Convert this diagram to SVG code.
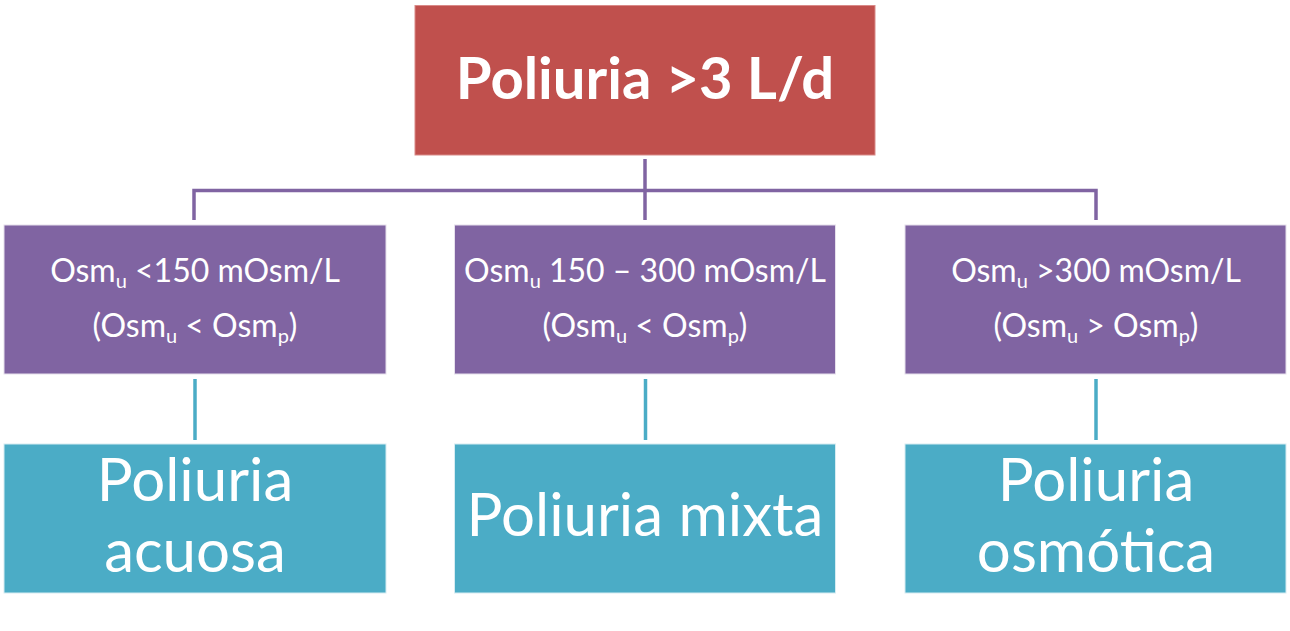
<svg xmlns="http://www.w3.org/2000/svg" width="1290" height="631" viewBox="0 0 1290 631">
<style>
.bg{fill:#ffffff}
.red{fill:#C0504D;stroke:#D98A88;stroke-width:1}
.pur{fill:#8064A2;stroke:#E6E0EC;stroke-width:1}
.cya{fill:#4BACC6;stroke:#D6ECF2;stroke-width:1}
.lp{stroke:#8064A2;stroke-width:3.5;fill:none}
.lc{stroke:#4BACC6;stroke-width:3.5;fill:none}
text{fill:#ffffff;font-family:Lato,"Open Sans","Liberation Sans",sans-serif;text-anchor:middle}
.t1{font-size:58px;font-weight:bold}
.t2{font-size:32px}
.t3{font-size:60px}
.sub{font-size:20px}
</style>
<rect class="bg" x="0" y="0" width="1290" height="631"/>
<g id="connectors">
<path class="lp" d="M645,159 V220"/>
<path class="lp" d="M194,220 V190.5 H1096 V220"/>
<path class="lc" d="M195,379 V440"/>
<path class="lc" d="M645.5,379 V440"/>
<path class="lc" d="M1096,379 V440"/>
</g>
<g id="n0">
<rect class="red" x="415" y="5.5" width="460" height="149.5"/>
<text class="t1" x="645" y="99">Poliuria &gt;3 L/d</text>
</g>
<g id="n1">
<rect class="pur" x="4" y="225" width="382" height="149"/>
<text class="t2" x="195" y="281.7">Osm<tspan class="sub" dy="6">u</tspan><tspan dy="-6"> &lt;150 mOsm/L</tspan></text>
<text class="t2" x="195" y="336.7">(Osm<tspan class="sub" dy="6">u</tspan><tspan dy="-6"> &lt; Osm</tspan><tspan class="sub" dy="6">p</tspan><tspan dy="-6">)</tspan></text>
</g>
<g id="n2">
<rect class="pur" x="454.5" y="225" width="381" height="149"/>
<text class="t2" x="645" y="281.7">Osm<tspan class="sub" dy="6">u</tspan><tspan dy="-6"> 150 – 300 mOsm/L</tspan></text>
<text class="t2" x="645" y="336.7">(Osm<tspan class="sub" dy="6">u</tspan><tspan dy="-6"> &lt; Osm</tspan><tspan class="sub" dy="6">p</tspan><tspan dy="-6">)</tspan></text>
</g>
<g id="n3">
<rect class="pur" x="905" y="225" width="381" height="149"/>
<text class="t2" x="1096" y="281.7">Osm<tspan class="sub" dy="6">u</tspan><tspan dy="-6"> &gt;300 mOsm/L</tspan></text>
<text class="t2" x="1096" y="336.7">(Osm<tspan class="sub" dy="6">u</tspan><tspan dy="-6"> &gt; Osm</tspan><tspan class="sub" dy="6">p</tspan><tspan dy="-6">)</tspan></text>
</g>
<g id="n4">
<rect class="cya" x="4" y="444" width="382" height="149"/>
<text class="t3" x="195" y="501">Poliuria</text>
<text class="t3" x="195" y="572">acuosa</text>
</g>
<g id="n5">
<rect class="cya" x="454.5" y="444" width="381" height="149"/>
<text class="t3" x="645" y="536">Poliuria mixta</text>
</g>
<g id="n6">
<rect class="cya" x="905" y="444" width="381" height="149"/>
<text class="t3" x="1096" y="501">Poliuria</text>
<text class="t3" x="1096" y="572">osmótica</text>
</g>
</svg>
